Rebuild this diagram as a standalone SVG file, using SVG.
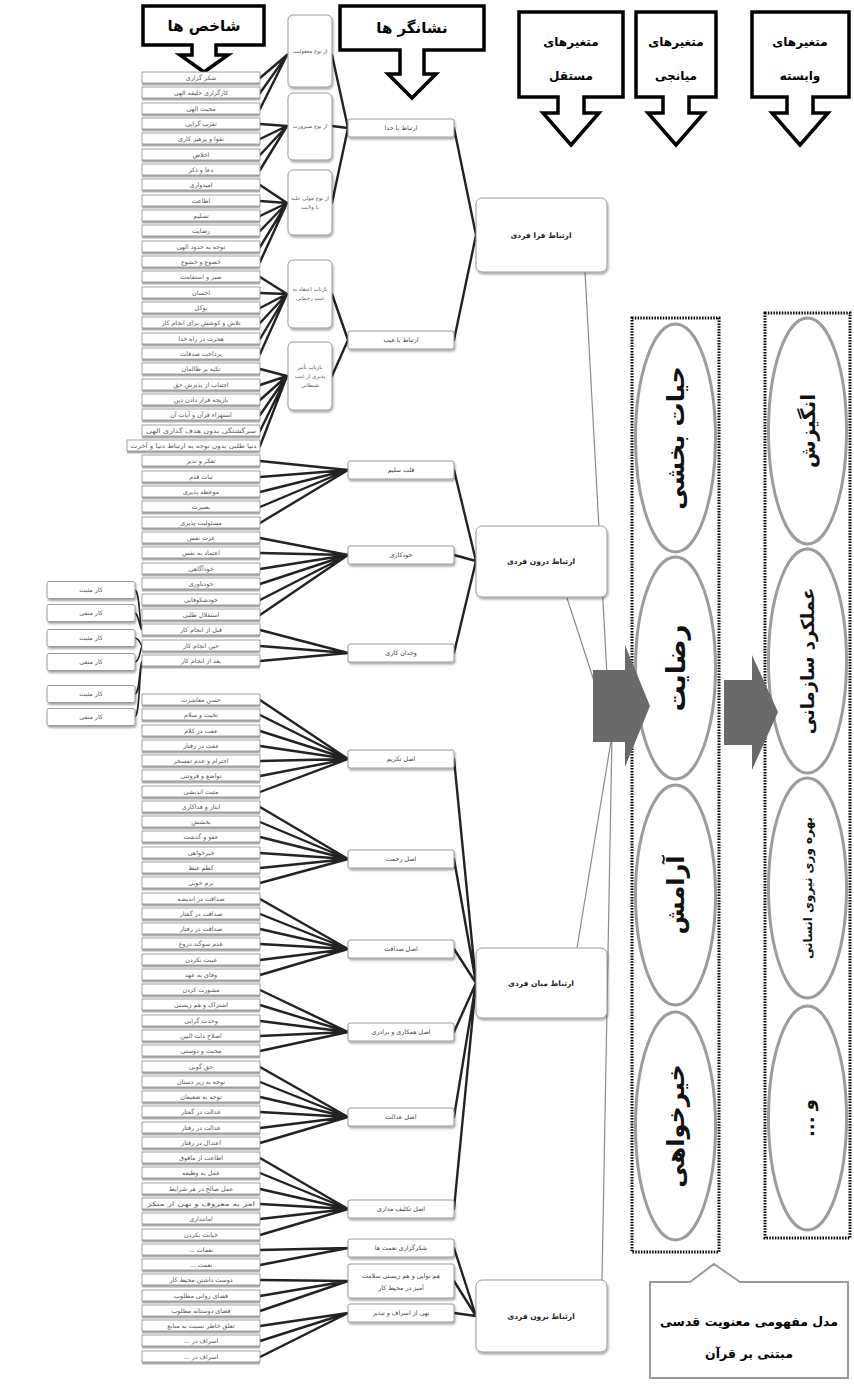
<svg xmlns="http://www.w3.org/2000/svg" xmlns:xlink="http://www.w3.org/1999/xlink" width="854" height="1389" viewBox="0 0 854 1389">
<style>
text{direction:rtl;unicode-bidi:embed}
.it{font-family:"DejaVu Sans",sans-serif;font-size:6.3px;fill:#555;text-anchor:middle}
.st{font-family:"DejaVu Sans",sans-serif;font-size:6.3px;fill:#444;text-anchor:middle}
.b2t{font-family:"DejaVu Sans",sans-serif;font-size:5.4px;fill:#555;text-anchor:middle}
.bt{font-family:"DejaVu Sans",sans-serif;font-size:7.5px;font-weight:bold;fill:#222;text-anchor:middle}
.ht{font-family:"DejaVu Sans",sans-serif;font-weight:bold;fill:#000;text-anchor:middle}
.hdr{fill:#fff;stroke:#000;stroke-width:3.5;stroke-linejoin:miter}
.box{fill:#fff;stroke:#9a9a9a;stroke-width:1}
.con{fill:none;stroke:#222;stroke-width:2.4;stroke-linecap:round}
.brk{fill:none;stroke:#222;stroke-width:1.6}
.thin{fill:none;stroke:#8a8a8a;stroke-width:1.2}
.dot{fill:none;stroke:#000;stroke-width:3;stroke-dasharray:1.5 1.3}
.ell{fill:#fff;stroke:#9c9c9c;stroke-width:3}
.et{font-family:"DejaVu Sans",sans-serif;font-weight:bold;fill:#111;text-anchor:middle;dominant-baseline:central}
.ga{fill:#6a6a6a}
</style>
<defs>
<filter id="sh" x="-20%" y="-20%" width="140%" height="150%"><feDropShadow dx="1" dy="2" stdDeviation="1.2" flood-color="#000" flood-opacity="0.35"/></filter>
<g id="ib"><rect x="142" y="-3.5" width="118" height="11" fill="#b0b0b0"/><rect x="142" y="-6" width="118" height="11" fill="#fff" stroke="#888" stroke-width="0.8"/></g>
<g id="ibw"><rect x="127" y="-3.5" width="133" height="11" fill="#b0b0b0"/><rect x="127" y="-6" width="133" height="11" fill="#fff" stroke="#888" stroke-width="0.8"/></g>
<g id="kb"><rect x="47" y="-8.5" width="88" height="17" rx="2" class="box" filter="url(#sh)"/></g>
<g id="sb"><rect x="348" y="-9" width="106" height="18" rx="2" class="box" filter="url(#sh)"/></g>
</defs>
<rect width="854" height="1389" fill="#fff"/>

<g id="headers">
<g id="h-shakhes"><path class="hdr" d="M143 6H264V45H216V55H228L204 72L180 55H192V45H143Z"/><text class="ht" x="204" y="31" font-size="15">شاخص ها</text></g>
<g id="h-neshangar"><path class="hdr" d="M340 6H484V50H424V74H436L412 98L388 74H400V50H340Z"/><text class="ht" x="412" y="33" font-size="15">نشانگر ها</text></g>
<g id="h-mostaghel"><path class="hdr" d="M519 12H623V97H584V113H599L571 145L543 113H558V97H519Z"/><text class="ht" x="571" y="46" font-size="12">متغیرهای</text><text class="ht" x="571" y="80" font-size="12">مستقل</text></g>
<g id="h-miyanji"><path class="hdr" d="M636 12H716V97H689V113H704L676 145L648 113H663V97H636Z"/><text class="ht" x="676" y="46" font-size="12">متغیرهای</text><text class="ht" x="676" y="80" font-size="12">میانجی</text></g>
<g id="h-vabaste"><path class="hdr" d="M752 12H849V97H813V113H828L800 145L772 113H787V97H752Z"/><text class="ht" x="800" y="46" font-size="12">متغیرهای</text><text class="ht" x="800" y="80" font-size="12">وابسته</text></g>
</g>

<g id="connectors">
<path class="con" d="M260 78L287 55M260 93L287 55M260 109L287 55
M260 124L287 126M260 139L287 126M260 155L287 126M260 170L287 126
M260 185L287 203M260 201L287 203M260 216L287 203M260 231L287 203M260 247L287 203M260 262L287 203
M260 277L287 294M260 293L287 294M260 308L287 294M260 323L287 294M260 339L287 294M260 354L287 294
M260 369L287 376M260 385L287 376M260 400L287 376M260 415L287 376M260 431L287 376M260 446L287 376
M332 55L348 128M332 126L348 128M332 203L348 128M332 294L348 340M332 376L348 340
M454 128L476 235M454 340L476 235
M260 461L348 470M260 477L348 470M260 492L348 470M260 507L348 470M260 523L348 470
M260 538L348 555M260 553L348 555M260 569L348 555M260 584L348 555M260 600L348 555M260 615L348 555
M260 630L348 653M260 646L348 653M260 661L348 653
M454 470L476 561M454 555L476 561M454 653L476 561
M260 700L348 759M260 715L348 759M260 731L348 759M260 746L348 759M260 761L348 759M260 776L348 759M260 792L348 759
M260 807L348 859M260 822L348 859M260 837L348 859M260 853L348 859M260 868L348 859M260 883L348 859
M260 899L348 949M260 914L348 949M260 929L348 949M260 944L348 949M260 960L348 949M260 975L348 949
M260 990L348 1032M260 1005L348 1032M260 1021L348 1032M260 1036L348 1032M260 1051L348 1032
M260 1067L348 1117M260 1082L348 1117M260 1097L348 1117M260 1112L348 1117M260 1128L348 1117M260 1143L348 1117
M260 1158L348 1209M260 1173L348 1209M260 1189L348 1209M260 1204L348 1209M260 1219L348 1209M260 1235L348 1209
M260 1250L348 1248M260 1265L348 1248
M260 1280L348 1281M260 1296L348 1281M260 1311L348 1281
M260 1326L348 1313M260 1341L348 1313M260 1357L348 1313
M454 759L476 983M454 859L476 983M454 949L476 983M454 1032L476 983M454 1117L476 983M454 1209L476 983
M454 1248L476 1316M454 1281L476 1316M454 1313L476 1316"/>
<path class="brk" d="M135 590C140 592 139 622 142 630M135 613C139 615 139 626 142 630M135 638C140 639 140 644 142 646M135 662C140 661 140 650 142 646M135 694C140 692 139 668 142 661M135 717C140 714 139 672 142 661"/>
<path class="thin" d="M585 272L610 730M567 598L610 730M577 948L612 735M602 1280L612 735"/>
</g>

<g id="list-1">
<g id="a0" transform="translate(0,78)"><use href="#ib"/><text class="it" x="201" y="2">شکر گزاری</text></g>
<g id="a1" transform="translate(0,93)"><use href="#ib"/><text class="it" x="201" y="2">کارگزاری خلیفه الهی</text></g>
<g id="a2" transform="translate(0,109)"><use href="#ib"/><text class="it" x="201" y="2">محبت الهی</text></g>
<g id="a3" transform="translate(0,124)"><use href="#ib"/><text class="it" x="201" y="2">تقرب گرایی</text></g>
<g id="a4" transform="translate(0,139)"><use href="#ib"/><text class="it" x="201" y="2">تقوا و پرهیز کاری</text></g>
<g id="a5" transform="translate(0,155)"><use href="#ib"/><text class="it" x="201" y="2">اخلاص</text></g>
<g id="a6" transform="translate(0,170)"><use href="#ib"/><text class="it" x="201" y="2">دعا و ذکر</text></g>
<g id="a7" transform="translate(0,185)"><use href="#ib"/><text class="it" x="201" y="2">امیدواری</text></g>
<g id="a8" transform="translate(0,201)"><use href="#ib"/><text class="it" x="201" y="2">اطاعت</text></g>
<g id="a9" transform="translate(0,216)"><use href="#ib"/><text class="it" x="201" y="2">تسلیم</text></g>
<g id="a10" transform="translate(0,231)"><use href="#ib"/><text class="it" x="201" y="2">رضایت</text></g>
<g id="a11" transform="translate(0,247)"><use href="#ib"/><text class="it" x="201" y="2">توجه به حدود الهی</text></g>
<g id="a12" transform="translate(0,262)"><use href="#ib"/><text class="it" x="201" y="2">خضوع و خشوع</text></g>
<g id="a13" transform="translate(0,277)"><use href="#ib"/><text class="it" x="201" y="2">صبر و استقامت</text></g>
<g id="a14" transform="translate(0,293)"><use href="#ib"/><text class="it" x="201" y="2">احسان</text></g>
<g id="a15" transform="translate(0,308)"><use href="#ib"/><text class="it" x="201" y="2">توکل</text></g>
<g id="a16" transform="translate(0,323)"><use href="#ib"/><text class="it" x="201" y="2">تلاش و کوشش برای انجام کار</text></g>
<g id="a17" transform="translate(0,339)"><use href="#ib"/><text class="it" x="201" y="2">هجرت در راه خدا</text></g>
<g id="a18" transform="translate(0,354)"><use href="#ib"/><text class="it" x="201" y="2">پرداخت صدقات</text></g>
<g id="a19" transform="translate(0,369)"><use href="#ib"/><text class="it" x="201" y="2">تکیه بر ظالمان</text></g>
<g id="a20" transform="translate(0,385)"><use href="#ib"/><text class="it" x="201" y="2">اجتناب از پذیرش حق</text></g>
<g id="a21" transform="translate(0,400)"><use href="#ib"/><text class="it" x="201" y="2">بازیچه قرار دادن دین</text></g>
<g id="a22" transform="translate(0,415)"><use href="#ib"/><text class="it" x="201" y="2">استهزاء قرآن و آیات آن</text></g>
<g id="a23" transform="translate(0,431)"><use href="#ib"/><text class="it" x="201" y="2" textLength="110" lengthAdjust="spacingAndGlyphs">سرگشتگی بدون هدف گذاری الهی</text></g>
<g id="a24" transform="translate(0,446)"><use href="#ibw"/><text class="it" x="193.5" y="2" textLength="126" lengthAdjust="spacingAndGlyphs">دنیا طلبی بدون توجه به ارتباط دنیا و آخرت</text></g>
<g id="a25" transform="translate(0,461)"><use href="#ib"/><text class="it" x="201" y="2">تفکر و تدبر</text></g>
<g id="a26" transform="translate(0,477)"><use href="#ib"/><text class="it" x="201" y="2">ثبات قدم</text></g>
<g id="a27" transform="translate(0,492)"><use href="#ib"/><text class="it" x="201" y="2">موعظه پذیری</text></g>
<g id="a28" transform="translate(0,507)"><use href="#ib"/><text class="it" x="201" y="2">بصیرت</text></g>
<g id="a29" transform="translate(0,523)"><use href="#ib"/><text class="it" x="201" y="2">مسئولیت پذیری</text></g>
<g id="a30" transform="translate(0,538)"><use href="#ib"/><text class="it" x="201" y="2">عزت نفس</text></g>
<g id="a31" transform="translate(0,553)"><use href="#ib"/><text class="it" x="201" y="2">اعتماد به نفس</text></g>
<g id="a32" transform="translate(0,569)"><use href="#ib"/><text class="it" x="201" y="2">خودآگاهی</text></g>
<g id="a33" transform="translate(0,584)"><use href="#ib"/><text class="it" x="201" y="2">خودباوری</text></g>
<g id="a34" transform="translate(0,600)"><use href="#ib"/><text class="it" x="201" y="2">خودشکوفایی</text></g>
<g id="a35" transform="translate(0,615)"><use href="#ib"/><text class="it" x="201" y="2">استقلال طلبی</text></g>
<g id="a36" transform="translate(0,630)"><use href="#ib"/><text class="it" x="201" y="2">قبل از انجام کار</text></g>
<g id="a37" transform="translate(0,646)"><use href="#ib"/><text class="it" x="201" y="2">حین انجام کار</text></g>
<g id="a38" transform="translate(0,661)"><use href="#ib"/><text class="it" x="201" y="2">بعد از انجام کار</text></g>
</g>

<g id="list-2">
<g id="b1" transform="translate(0,700)"><use href="#ib"/><text class="it" x="201" y="2">حسن معاشرت</text></g>
<g id="b2" transform="translate(0,715)"><use href="#ib"/><text class="it" x="201" y="2">تحیت و سلام</text></g>
<g id="b3" transform="translate(0,731)"><use href="#ib"/><text class="it" x="201" y="2">عفت در کلام</text></g>
<g id="b4" transform="translate(0,746)"><use href="#ib"/><text class="it" x="201" y="2">عفت در رفتار</text></g>
<g id="b5" transform="translate(0,761)"><use href="#ib"/><text class="it" x="201" y="2">احترام و عدم تمسخر</text></g>
<g id="b6" transform="translate(0,776)"><use href="#ib"/><text class="it" x="201" y="2">تواضع و فروتنی</text></g>
<g id="b7" transform="translate(0,792)"><use href="#ib"/><text class="it" x="201" y="2">مثبت اندیشی</text></g>
<g id="b8" transform="translate(0,807)"><use href="#ib"/><text class="it" x="201" y="2">ایثار و فداکاری</text></g>
<g id="b9" transform="translate(0,822)"><use href="#ib"/><text class="it" x="201" y="2">بخشش</text></g>
<g id="b10" transform="translate(0,837)"><use href="#ib"/><text class="it" x="201" y="2">عفو و گذشت</text></g>
<g id="b11" transform="translate(0,853)"><use href="#ib"/><text class="it" x="201" y="2">خیرخواهی</text></g>
<g id="b12" transform="translate(0,868)"><use href="#ib"/><text class="it" x="201" y="2">کظم غیظ</text></g>
<g id="b13" transform="translate(0,883)"><use href="#ib"/><text class="it" x="201" y="2">نرم خویی</text></g>
<g id="b14" transform="translate(0,899)"><use href="#ib"/><text class="it" x="201" y="2">صداقت در اندیشه</text></g>
<g id="b15" transform="translate(0,914)"><use href="#ib"/><text class="it" x="201" y="2">صداقت در گفتار</text></g>
<g id="b16" transform="translate(0,929)"><use href="#ib"/><text class="it" x="201" y="2">صداقت در رفتار</text></g>
<g id="b17" transform="translate(0,944)"><use href="#ib"/><text class="it" x="201" y="2">عدم سوگند دروغ</text></g>
<g id="b18" transform="translate(0,960)"><use href="#ib"/><text class="it" x="201" y="2">غیبت نکردن</text></g>
<g id="b19" transform="translate(0,975)"><use href="#ib"/><text class="it" x="201" y="2">وفای به عهد</text></g>
<g id="b20" transform="translate(0,990)"><use href="#ib"/><text class="it" x="201" y="2">مشورت کردن</text></g>
<g id="b21" transform="translate(0,1005)"><use href="#ib"/><text class="it" x="201" y="2">اشتراک و هم زیستی</text></g>
<g id="b22" transform="translate(0,1021)"><use href="#ib"/><text class="it" x="201" y="2">وحدت گرایی</text></g>
<g id="b23" transform="translate(0,1036)"><use href="#ib"/><text class="it" x="201" y="2">اصلاح ذات البین</text></g>
<g id="b24" transform="translate(0,1051)"><use href="#ib"/><text class="it" x="201" y="2">محبت و دوستی</text></g>
<g id="b25" transform="translate(0,1067)"><use href="#ib"/><text class="it" x="201" y="2">حق گویی</text></g>
<g id="b26" transform="translate(0,1082)"><use href="#ib"/><text class="it" x="201" y="2">توجه به زیر دستان</text></g>
<g id="b27" transform="translate(0,1097)"><use href="#ib"/><text class="it" x="201" y="2">توجه به ضعیفان</text></g>
<g id="b28" transform="translate(0,1112)"><use href="#ib"/><text class="it" x="201" y="2">عدالت در گفتار</text></g>
<g id="b29" transform="translate(0,1128)"><use href="#ib"/><text class="it" x="201" y="2">عدالت در رفتار</text></g>
<g id="b30" transform="translate(0,1143)"><use href="#ib"/><text class="it" x="201" y="2">اعتدال در رفتار</text></g>
<g id="b31" transform="translate(0,1158)"><use href="#ib"/><text class="it" x="201" y="2">اطاعت از مافوق</text></g>
<g id="b32" transform="translate(0,1173)"><use href="#ib"/><text class="it" x="201" y="2">عمل به وظیفه</text></g>
<g id="b33" transform="translate(0,1189)"><use href="#ib"/><text class="it" x="201" y="2">عمل صالح در هر شرایط</text></g>
<g id="b34" transform="translate(0,1204)"><use href="#ib"/><text class="it" x="201" y="2" textLength="108" lengthAdjust="spacingAndGlyphs">امر به معروف و نهی از منکر</text></g>
<g id="b35" transform="translate(0,1219)"><use href="#ib"/><text class="it" x="201" y="2">امانتداری</text></g>
<g id="b36" transform="translate(0,1235)"><use href="#ib"/><text class="it" x="201" y="2">خیانت نکردن</text></g>
<g id="b37" transform="translate(0,1250)"><use href="#ib"/><text class="it" x="201" y="2">نعمات ...</text></g>
<g id="b38" transform="translate(0,1265)"><use href="#ib"/><text class="it" x="201" y="2">نعمت ...</text></g>
<g id="b39" transform="translate(0,1280)"><use href="#ib"/><text class="it" x="201" y="2">دوست داشتن محیط کار</text></g>
<g id="b40" transform="translate(0,1296)"><use href="#ib"/><text class="it" x="201" y="2">فضای روانی مطلوب</text></g>
<g id="b41" transform="translate(0,1311)"><use href="#ib"/><text class="it" x="201" y="2">فضای دوستانه مطلوب</text></g>
<g id="b42" transform="translate(0,1326)"><use href="#ib"/><text class="it" x="201" y="2">تعلق خاطر نسبت به منابع</text></g>
<g id="b43" transform="translate(0,1341)"><use href="#ib"/><text class="it" x="201" y="2">اسراف در ...</text></g>
<g id="b44" transform="translate(0,1357)"><use href="#ib"/><text class="it" x="201" y="2">اسراف در ...</text></g>
</g>

<g id="kar-boxes">
<g id="k1" transform="translate(0,590)"><use href="#kb"/><text class="it" x="91" y="2">کار مثبت</text></g>
<g id="k2" transform="translate(0,613)"><use href="#kb"/><text class="it" x="91" y="2">کار منفی</text></g>
<g id="k3" transform="translate(0,638)"><use href="#kb"/><text class="it" x="91" y="2">کار مثبت</text></g>
<g id="k4" transform="translate(0,662)"><use href="#kb"/><text class="it" x="91" y="2">کار منفی</text></g>
<g id="k5" transform="translate(0,694)"><use href="#kb"/><text class="it" x="91" y="2">کار مثبت</text></g>
<g id="k6" transform="translate(0,717)"><use href="#kb"/><text class="it" x="91" y="2">کار منفی</text></g>
</g>

<g id="level2">
<g id="c1"><rect x="288" y="15" width="44" height="72" rx="5" class="box" filter="url(#sh)"/><text class="b2t" x="310" y="53">از نوع معقولیت</text></g>
<g id="c2"><rect x="288" y="93" width="44" height="67" rx="5" class="box" filter="url(#sh)"/><text class="b2t" x="310" y="128">از نوع صیرورت</text></g>
<g id="c3"><rect x="288" y="170" width="44" height="65" rx="5" class="box" filter="url(#sh)"/><text class="b2t" x="310" y="200">از نوع مولی علیه</text><text class="b2t" x="310" y="209">یا ولایت</text></g>
<g id="c4"><rect x="288" y="260" width="44" height="68" rx="5" class="box" filter="url(#sh)"/><text class="b2t" x="310" y="291">بازتاب اعتقاد به</text><text class="b2t" x="310" y="300">غیب رحمانی</text></g>
<g id="c5"><rect x="288" y="342" width="44" height="68" rx="5" class="box" filter="url(#sh)"/><text class="b2t" x="310" y="369">بازتاب تأثیر</text><text class="b2t" x="310" y="378">پذیری از غیب</text><text class="b2t" x="310" y="387">شیطانی</text></g>
</g>

<g id="level3">
<g id="d1" transform="translate(0,128)"><use href="#sb"/><text class="st" x="401" y="2">ارتباط با خدا</text></g>
<g id="d2" transform="translate(0,340)"><use href="#sb"/><text class="st" x="401" y="2">ارتباط با غیب</text></g>
<g id="d3" transform="translate(0,470)"><use href="#sb"/><text class="st" x="401" y="2">قلب سلیم</text></g>
<g id="d4" transform="translate(0,555)"><use href="#sb"/><text class="st" x="401" y="2">خودکاری</text></g>
<g id="d5" transform="translate(0,653)"><use href="#sb"/><text class="st" x="401" y="2">وجدان کاری</text></g>
<g id="d6" transform="translate(0,759)"><use href="#sb"/><text class="st" x="401" y="2">اصل تکریم</text></g>
<g id="d7" transform="translate(0,859)"><use href="#sb"/><text class="st" x="401" y="2">اصل رحمت</text></g>
<g id="d8" transform="translate(0,949)"><use href="#sb"/><text class="st" x="401" y="2">اصل صداقت</text></g>
<g id="d9" transform="translate(0,1032)"><use href="#sb"/><text class="st" x="401" y="2">اصل همکاری و برادری</text></g>
<g id="d10" transform="translate(0,1117)"><use href="#sb"/><text class="st" x="401" y="2">اصل عدالت</text></g>
<g id="d11" transform="translate(0,1209)"><use href="#sb"/><text class="st" x="401" y="2">اصل تکلیف مداری</text></g>
<g id="d12" transform="translate(0,1248)"><use href="#sb"/><text class="st" x="401" y="2">شکرگزاری نعمت ها</text></g>
<g id="d13"><rect x="348" y="1264" width="106" height="34" rx="2" class="box" filter="url(#sh)"/><text class="st" x="401" y="1278">هم نوایی و هم زیستی سلامت</text><text class="st" x="401" y="1290">آمیز در محیط کار</text></g>
<g id="d14" transform="translate(0,1313)"><use href="#sb"/><text class="st" x="401" y="2">نهی از اسراف و تبذیر</text></g>
</g>

<g id="level4">
<g id="e1"><rect x="476" y="198" width="131" height="74" rx="6" class="box" filter="url(#sh)"/><text class="bt" x="541" y="238">ارتباط فرا فردی</text></g>
<g id="e2"><rect x="476" y="526" width="131" height="71" rx="6" class="box" filter="url(#sh)"/><text class="bt" x="541" y="564">ارتباط درون فردی</text></g>
<g id="e3"><rect x="476" y="948" width="131" height="70" rx="6" class="box" filter="url(#sh)"/><text class="bt" x="541" y="986">ارتباط میان فردی</text></g>
<g id="e4"><rect x="476" y="1280" width="131" height="72" rx="6" class="box" filter="url(#sh)"/><text class="bt" x="541" y="1319">ارتباط برون فردی</text></g>
</g>

<g id="mediators">
<rect class="dot" x="632" y="318" width="87" height="934"/>
<g id="m1"><ellipse class="ell" cx="675.5" cy="438" rx="40" ry="114"/><text class="et" font-size="24" transform="translate(675.5 438) rotate(-90)">حیات بخشی</text></g>
<g id="m2"><ellipse class="ell" cx="675.5" cy="668" rx="40" ry="111"/><text class="et" font-size="26" transform="translate(675.5 668) rotate(-90)">رضایت</text></g>
<g id="m3"><ellipse class="ell" cx="675.5" cy="895" rx="40" ry="110"/><text class="et" font-size="24" transform="translate(675.5 895) rotate(-90)">آرامش</text></g>
<g id="m4"><ellipse class="ell" cx="675.5" cy="1126" rx="40" ry="114"/><text class="et" font-size="24" transform="translate(675.5 1126) rotate(-90)">خیرخواهی</text></g>
</g>

<g id="dependents">
<rect class="dot" x="765" y="313" width="85" height="925"/>
<g id="v1"><ellipse class="ell" cx="807.5" cy="431" rx="39" ry="113"/><text class="et" font-size="20" transform="translate(807.5 431) rotate(-90)">انگیزش</text></g>
<g id="v2"><ellipse class="ell" cx="807.5" cy="661" rx="39" ry="112"/><text class="et" font-size="18" transform="translate(807.5 661) rotate(-90)">عملکرد سازمانی</text></g>
<g id="v3"><ellipse class="ell" cx="807.5" cy="888" rx="39" ry="110"/><text class="et" font-size="12" transform="translate(807.5 888) rotate(-90)">بهره وری نیروی انسانی</text></g>
<g id="v4"><ellipse class="ell" cx="807.5" cy="1118" rx="39" ry="112"/><text class="et" font-size="18" transform="translate(807.5 1118) rotate(-90)">و ...</text></g>
</g>

<g id="arrows">
<path id="arrow1" class="ga" d="M593 670H625V645L650 706L625 767V742H593Z"/>
<path id="arrow2" class="ga" d="M724 680H752V655L778 712L752 770V745H724Z"/>
</g>

<g id="caption">
<path d="M650 1282H690L714 1264L740 1282H848V1378H650Z" fill="#fff" stroke="#9a9a9a" stroke-width="2"/>
<text class="ht" x="749" y="1326" font-size="12.5">مدل مفهومی معنویت قدسی</text>
<text class="ht" x="749" y="1358" font-size="12.5">مبتنی بر قرآن</text>
</g>
</svg>
